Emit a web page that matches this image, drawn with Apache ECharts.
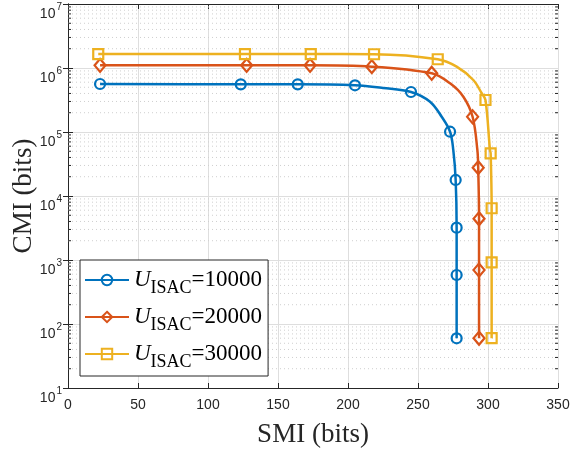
<!DOCTYPE html>
<html>
<head>
<meta charset="utf-8">
<script src="https://cdn.jsdelivr.net/npm/echarts@6/dist/echarts.min.js"></script>
<style>html,body{margin:0;padding:0;background:#fff;}#c{width:572px;height:449px;}</style>
</head>
<body>
<div id="c"></div>
<script>
// ---- data ----
const seriesNames = ['U_ISAC=10000', 'U_ISAC=20000', 'U_ISAC=30000'];
const legendValues = ['10000', '20000', '30000'];

// marker points
const blueMarkSMI = [22.9, 123.4, 164.1, 205, 245, 272.9, 276.9, 277.6, 277.6, 277.6];
const blueMarkCMI = [5.62e5, 5.56e5, 5.56e5, 5.37e5, 4.22e5, 1.01e5, 1.78e4, 3.2e3, 583, 59.8];
const orangeMarkSMI = [22.9, 127.6, 172.9, 217, 259.8, 289, 293, 293.6, 293.6, 293.6];
const orangeMarkCMI = [1.10e6, 1.10e6, 1.10e6, 1.05e6, 8.26e5, 1.73e5, 2.77e4, 4.42e3, 698, 60];
const yellowMarkSMI = [21.6, 126.4, 173.4, 218.6, 264.1, 298.2, 301.9, 302.6, 302.6, 302.6];
const yellowMarkCMI = [1.65e6, 1.65e6, 1.65e6, 1.64e6, 1.37e6, 3.16e5, 4.64e4, 6.43e3, 920, 60];

// extra curve points (no marker)
const blueCurveSMI = [225, 258.6, 266.9, 275.2];
const blueCurveCMI = [4.87e5, 2.97e5, 1.73e5, 5.24e4];
const orangeCurveSMI = [272.9, 282.4, 292.4];
const orangeCurveCMI = [5.77e5, 3.56e5, 5.24e4];
const yellowCurveSMI = [277.6, 289.5, 295.5, 301.4];
const yellowCurveCMI = [1.05e6, 6.49e5, 4.03e5, 5.24e4];

// axis ticks
const xMin = 0, xMax = 350, xStep = 50;
const yMin = 10, yMax = 1e7;
const minorY = [];
for (let e = 1; e < 7; e++) for (let m = 2; m <= 9; m++) minorY.push(m * Math.pow(10, e));

// ---- build ----
function buildLine(mS, mC, cS, cC) {
  const pts = [];
  mS.forEach((s, i) => pts.push({ value: [s, mC[i]] }));
  cS.forEach((s, i) => pts.push({ value: [s, cC[i]], symbol: 'none' }));
  pts.sort((a, b) => b.value[1] - a.value[1]);
  return pts;
}
const colors = ['#0072BD', '#D95319', '#EDB120'];
const symbols = ['circle', 'diamond', 'rect'];
const symSizes = [10, [11, 13], 10];
const lines = [
  buildLine(blueMarkSMI, blueMarkCMI, blueCurveSMI, blueCurveCMI),
  buildLine(orangeMarkSMI, orangeMarkCMI, orangeCurveSMI, orangeCurveCMI),
  buildLine(yellowMarkSMI, yellowMarkCMI, yellowCurveSMI, yellowCurveCMI)
];

const axisColor = '#262626';
const gridColor = '#dedede';
const chart = echarts.init(document.getElementById('c'), null, { renderer: 'canvas' });

const series = [{
  type: 'custom',
  name: 'minor',
  silent: true,
  z: 1,
  data: minorY.map(v => [xMin, v]),
  renderItem: function (params, api) {
    const v = api.value(1);
    const p1 = api.coord([xMin, v]);
    const p2 = api.coord([xMax, v]);
    return {
      type: 'group',
      children: [
        { type: 'line', shape: { x1: p1[0], y1: p1[1], x2: p2[0], y2: p2[1] },
          style: { stroke: '#cfcfcf', lineWidth: 1, lineDash: [1, 3] } },
        { type: 'line', shape: { x1: p1[0], y1: p1[1], x2: p1[0] + 3, y2: p1[1] },
          style: { stroke: axisColor, lineWidth: 1 } },
        { type: 'line', shape: { x1: p2[0] - 3, y1: p2[1], x2: p2[0], y2: p2[1] },
          style: { stroke: axisColor, lineWidth: 1 } }
      ]
    };
  }
}];
lines.forEach((d, i) => {
  series.push({
    type: 'line',
    name: seriesNames[i],
    data: d,
    z: 3,
    smooth: 0.35,
    symbol: symbols[i],
    symbolSize: symSizes[i],
    showAllSymbol: true,
    lineStyle: { color: colors[i], width: 2.5 },
    itemStyle: { color: 'rgba(255,255,255,0)', borderColor: colors[i], borderWidth: 2.2 },
    emphasis: { disabled: true }
  });
});

const option = {
  animation: false,
  backgroundColor: '#fff',
  grid: { left: 68, right: 14, top: 4, bottom: 61, containLabel: false, outerBoundsMode: 'none' },
  legend: {
    data: seriesNames,
    orient: 'vertical',
    left: 80, top: 260,
    itemWidth: 44, itemHeight: 13, itemGap: 8,
    padding: [8, 6, 5, 4],
    backgroundColor: '#fff',
    borderColor: axisColor, borderWidth: 1,
    inactiveColor: '#000',
    selectedMode: false,
    formatter: function (name) {
      const i = seriesNames.indexOf(name);
      return '{u|U}{s|ISAC}{n|=' + legendValues[i] + '}';
    },
    textStyle: {
      padding: [0, 0, 0, 0],
      rich: {
        u: { fontFamily: 'Liberation Serif', fontStyle: 'italic', fontSize: 23, color: '#000', lineHeight: 24, verticalAlign: 'top' },
        s: { fontFamily: 'Liberation Serif', fontSize: 18, color: '#000', lineHeight: 18, padding: [11, 0, 0, 0], verticalAlign: 'top' },
        n: { fontFamily: 'Liberation Serif', fontSize: 23, color: '#000', lineHeight: 24, verticalAlign: 'top' }
      }
    }
  },
  xAxis: [{
    type: 'value', min: xMin, max: xMax, interval: xStep,
    name: 'SMI (bits)', nameLocation: 'middle', nameGap: 33,
    nameTextStyle: { fontFamily: 'Liberation Serif', fontSize: 27, color: axisColor },
    axisLine: { show: true, lineStyle: { color: axisColor, width: 1 } },
    axisTick: { show: true, inside: true, length: 5, lineStyle: { color: axisColor } },
    axisLabel: { fontFamily: 'Liberation Sans', fontSize: 14, color: axisColor, margin: 10 },
    splitLine: { show: true, lineStyle: { color: gridColor, width: 1 } }
  }, {
    type: 'value', min: xMin, max: xMax, interval: xStep, position: 'top',
    axisLine: { show: true, lineStyle: { color: axisColor, width: 1 } },
    axisTick: { show: true, inside: true, length: 5, lineStyle: { color: axisColor } },
    axisLabel: { show: false }, splitLine: { show: false }
  }],
  yAxis: [{
    type: 'log', logBase: 10, min: yMin, max: yMax,
    name: 'CMI (bits)', nameLocation: 'middle', nameGap: 31, nameMoveOverlap: false,
    nameTextStyle: { fontFamily: 'Liberation Serif', fontSize: 27, color: axisColor },
    axisLine: { show: true, lineStyle: { color: axisColor, width: 1 } },
    axisTick: { show: true, inside: true, length: 5, lineStyle: { color: axisColor } },
    axisLabel: {
      margin: 6,
      formatter: function (v) { return '{b|10}{e|' + Math.round(Math.log10(v)) + '}'; },
      rich: {
        b: { fontFamily: 'Liberation Sans', fontSize: 14, color: axisColor, lineHeight: 14, padding: [10, 0, 0, 0], verticalAlign: 'top' },
        e: { fontFamily: 'Liberation Sans', fontSize: 10, color: axisColor, lineHeight: 10, padding: [5, 0, 0, 1], verticalAlign: 'top' }
      }
    },
    splitLine: { show: true, lineStyle: { color: gridColor, width: 1 } }
  }, {
    type: 'log', logBase: 10, min: yMin, max: yMax, position: 'right',
    axisLine: { show: true, lineStyle: { color: axisColor, width: 1 } },
    axisTick: { show: true, inside: true, length: 5, lineStyle: { color: axisColor } },
    axisLabel: { show: false }, splitLine: { show: false }
  }],
  series: series
};
chart.setOption(option);
</script>
</body>
</html>
